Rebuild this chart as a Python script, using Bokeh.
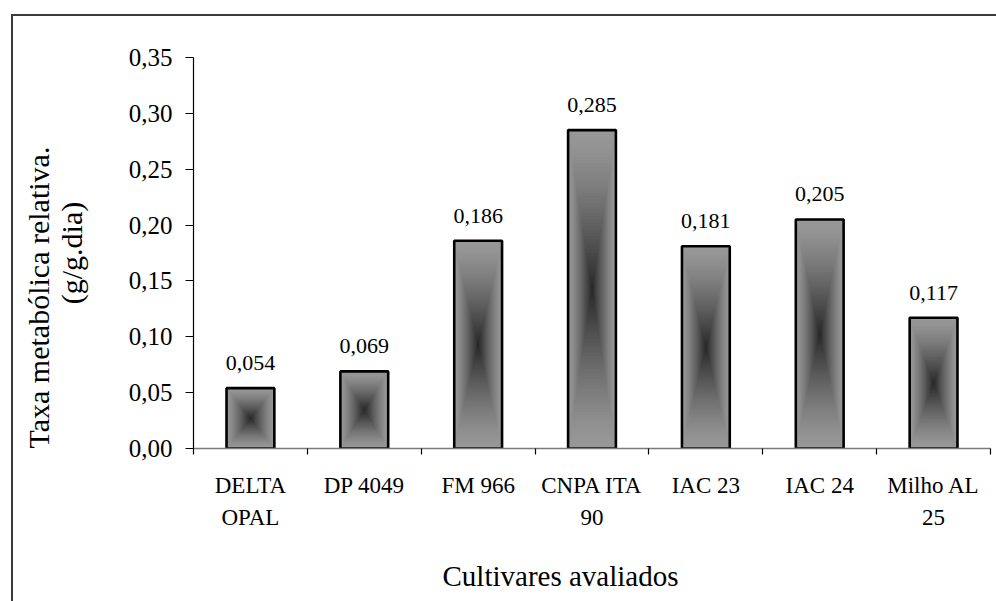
import numpy as np
from bokeh.core.properties import value
from bokeh.embed import file_html
from bokeh.models import CustomJSTickFormatter, FixedTicker, LinearAxis, Range1d, Title
from bokeh.plotting import figure
from bokeh.resources import INLINE

# Relative metabolic rate per cultivar (g/g.dia)
cultivars = ["DELTA OPAL", "DP 4049", "FM 966", "CNPA ITA 90",
             "IAC 23", "IAC 24", "Milho AL 25"]
category_labels = ["DELTA\nOPAL", "DP 4049", "FM 966", "CNPA ITA\n90",
                   "IAC 23", "IAC 24", "Milho AL\n25"]
rates = [0.054, 0.069, 0.186, 0.285, 0.181, 0.205, 0.117]
y_ticks = [0.00, 0.05, 0.10, 0.15, 0.20, 0.25, 0.30, 0.35]

FONT = "Liberation Serif"
W, H = 996, 601
FRAME_L, FRAME_R, FRAME_T, FRAME_B = 193, 990, 57, 448
BORDER = "#3a3a3a"

p = figure(width=W, height=H, output_backend="svg", toolbar_location=None,
           x_range=Range1d(0, len(cultivars)),
           y_range=Range1d(y_ticks[0], y_ticks[-1]),
           min_border_left=FRAME_L, min_border_right=W - FRAME_R,
           min_border_top=FRAME_T, min_border_bottom=H - FRAME_B)
p.outline_line_color = None
p.grid.visible = False
p.background_fill_color = "white"
p.border_fill_alpha = 0
# chart-area border: left and top edges, the rest runs past the page
p.styles = {
    "background": (f"linear-gradient({BORDER},{BORDER}) 11px 14px / 2px 100% no-repeat, "
                   f"linear-gradient({BORDER},{BORDER}) 11px 14px / 100% 2px no-repeat, "
                   "#ffffff"),
}

# --- bars: "from centre" rectangular gradient built from nested quads ---
BAR_HALF = 0.21
STEPS = 48
edge_rgb = np.array([152, 152, 152])
core_rgb = np.array([38, 38, 38])

g_left, g_right, g_bottom, g_top, g_color = [], [], [], [], []
for i, v in enumerate(rates):
    cx = i + 0.5
    for k in range(STEPS):
        t = k / STEPS
        g_left.append(cx - BAR_HALF * (1 - t))
        g_right.append(cx + BAR_HALF * (1 - t))
        g_bottom.append(v / 2 * t)
        g_top.append(v - v / 2 * t)
        c = edge_rgb - (edge_rgb - core_rgb) * (t ** 1.35)
        g_color.append("#%02x%02x%02x" % tuple(int(round(x)) for x in c))

p.quad(left=g_left, right=g_right, bottom=g_bottom, top=g_top,
       fill_color=g_color, line_color=None)

centers = [i + 0.5 for i in range(len(rates))]
p.quad(left=[c - BAR_HALF for c in centers], right=[c + BAR_HALF for c in centers],
       bottom=[0] * len(rates), top=rates,
       fill_color=None, line_color="black", line_width=2.6)

# value labels above each bar
p.text(x=centers, y=rates,
       text=[("%.3f" % v).replace(".", ",") for v in rates],
       text_font=value(FONT), text_font_size="22px", text_color="black",
       text_align="center", text_baseline="alphabetic", y_offset=-25)

# --- axes ---
xa = p.xaxis[0]
xa.ticker = FixedTicker(ticks=centers, minor_ticks=list(range(len(cultivars) + 1)))
xa.formatter = CustomJSTickFormatter(args=dict(labels=category_labels),
                                     code="return labels[Math.floor(tick)];")
xa.major_tick_in = 0
xa.major_tick_out = 0
xa.minor_tick_in = 0
xa.minor_tick_out = 6
xa.minor_tick_line_color = "black"
xa.minor_tick_line_width = 1.2
xa.axis_line_color = "#7a7a7a"
xa.axis_line_width = 1.6
xa.major_label_text_font = FONT
xa.major_label_text_font_size = "23px"
xa.major_label_text_color = "black"
xa.major_label_text_line_height = 1.3
xa.major_label_standoff = 18

# empty strip below the category labels (an invisible tick sets its depth)
gap_axis = LinearAxis(ticker=FixedTicker(ticks=[len(cultivars) / 2]),
                      formatter=CustomJSTickFormatter(code="return '';"),
                      axis_line_color=None, major_tick_line_color=None,
                      major_tick_out=22, major_tick_in=0,
                      minor_tick_out=0, minor_tick_in=0,
                      major_label_standoff=0, major_label_text_font_size="1px")
p.add_layout(gap_axis, "below")

# x title, left-anchored so it sits left of the plot-area centre
p.add_layout(Title(text="Cultivares avaliados", align="left", offset=249,
                   standoff=4, text_font=FONT, text_font_size="29px",
                   text_font_style="normal", text_color="black"), "below")

ya = p.yaxis[0]
ya.ticker = FixedTicker(ticks=y_ticks, minor_ticks=[])
ya.formatter = CustomJSTickFormatter(code="return tick.toFixed(2).replace('.', ',');")
ya.major_tick_in = 0
ya.major_tick_out = 8
ya.major_tick_line_color = "black"
ya.major_tick_line_width = 1.2
ya.minor_tick_out = 0
ya.minor_tick_in = 0
ya.axis_line_color = "black"
ya.axis_line_width = 1.2
ya.major_label_text_font = FONT
ya.major_label_text_font_size = "25px"
ya.major_label_text_color = "black"
ya.major_label_standoff = 13
ya.axis_label = "(g/g.dia)"
ya.axis_label_text_font = FONT
ya.axis_label_text_font_size = "30px"
ya.axis_label_text_font_style = "normal"
ya.axis_label_text_color = "black"
ya.axis_label_standoff = 38

# first line of the y title, starting at the bottom of the plot area
p.add_layout(Title(text="Taxa metabólica relativa.", align="left", offset=0,
                   standoff=-6, text_font=FONT, text_font_size="30px",
                   text_font_style="normal", text_color="black"), "left")

open("out.html", "w").write(file_html(p, INLINE))
